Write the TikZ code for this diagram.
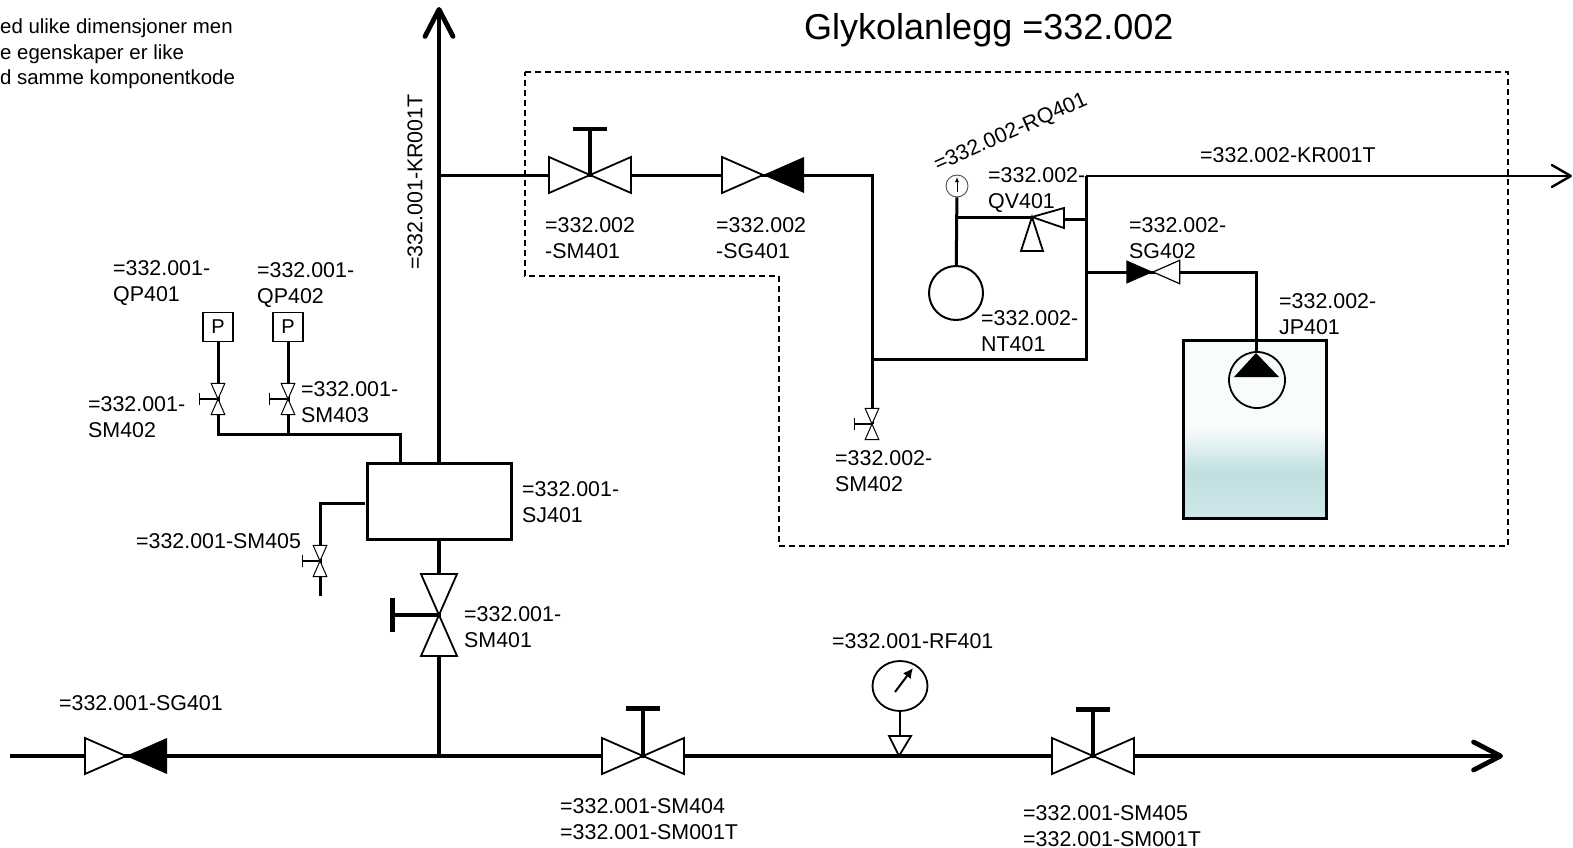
\documentclass[tikz,border=0pt]{standalone}
\usepackage{fontspec}
\setmainfont{Liberation Sans}
\usetikzlibrary{arrows.meta,shapes.geometric}

\definecolor{tanktop}{HTML}{F8FCFD}
\definecolor{tankmid}{HTML}{BFDFE1}
\definecolor{tankbot}{HTML}{D0E7E9}
\pgfdeclareverticalshading{tankfill}{100bp}{color(0bp)=(tankbot); color(25bp)=(tankbot); color(37.6bp)=(tankmid); color(50.5bp)=(tanktop); color(100bp)=(tanktop)}

\tikzset{
    mainpipe/.style={line width=4.8pt},
    pipe/.style={line width=3pt},
    thinline/.style={line width=1.4pt},
    valveline/.style={line width=1.8pt},
    lbl/.style={anchor=west, inner sep=0pt, align=left, font=\fontsize{21.4}{25.5}\selectfont},
    smallvalve/.style={rotate=90, scale=.38, valveline/.append style={line width=1pt}},
    pbox/.style={draw, line width=1.8pt, minimum width=30pt, minimum height=29pt, inner sep=0pt, font=\fontsize{20}{24}\selectfont},
    wheel/.style={line width=4pt, -{Bar[width=34pt, line width=4.5pt]}},
    smallwheel/.style={thinline, -{Bar[width=12pt]}},
    bowvalve/.pic={\draw[valveline, fill=white] (-41,-18) -- (41,18) -- (41,-18) -- (-41,18) -- cycle;},
    checkvalve/.pic={
        \draw[valveline, fill=white] (0,0) -- (-41,-18) -- (-41,18) -- cycle;
        \fill (0,0) -- (41,-18) -- (41,18) -- cycle;
    },
}

\begin{document}
\begin{tikzpicture}[x=1pt, y=-1pt]
    \useasboundingbox (0,0) rectangle (1573,848);

    \draw[line width=1.6pt, dash pattern=on 6pt off 4pt] (525,72) -- (1508,72) -- (1508,546) -- (779,546) -- (779,276) -- (525,276) -- cycle;

    \coordinate (mainin) at (10,756);
    \coordinate (mainout) at (1503,756);
    \coordinate (mainjunc) at (439,756);
    \coordinate (kr1top) at (439,7);
    \coordinate (kr1junc) at (439,175);
    \coordinate (sg401) at (126,756);
    \coordinate (sm404) at (643,756);
    \coordinate (sm404h) at (643,706);
    \coordinate (sm405b) at (1093,756);
    \coordinate (sm405bh) at (1093,707);
    \coordinate (sm401b) at (439,615);
    \coordinate (sm401bh) at (390,615);

    \node[draw, pipe, fill=white, minimum width=144pt, minimum height=76pt, inner sep=0pt] (sj401) at (439,501) {};
    \draw[mainpipe, -{Straight Barb[round, length=27pt, width=28pt]}] (mainin) -- (mainout);
    \draw[mainpipe] (mainjunc) -- (sj401.south);
    \draw[mainpipe, -{Straight Barb[round, length=27pt, width=28pt]}] (sj401.north) -- (kr1top);
    \draw[wheel] (sm401b) -- (sm401bh);
    \draw[wheel] (sm404) -- (sm404h);
    \draw[wheel] (sm405b) -- (sm405bh);

    \pic at (sg401) {checkvalve};
    \pic at (sm404) {bowvalve};
    \pic at (sm405b) {bowvalve};
    \pic[rotate=90] at (sm401b) {bowvalve};

    \node[ellipse, draw, line width=1.8pt, minimum width=55pt, minimum height=50pt, inner sep=0pt] (rf401) at (900,686) {};
    \coordinate (rf401s) at (900,736);
    \coordinate (rf401a) at (895,692);
    \coordinate (rf401b) at (913,668);
    \draw[thinline] (rf401) -- (rf401s);
    \draw[line width=1.8pt] (889,736) -- (911,736) -- (899,756) -- cycle;
    \draw[line width=2pt, -{Latex[length=10pt, width=10pt]}] (rf401a) -- (rf401b);

    \node[pbox] (qp401) at (218,327) {P};
    \node[pbox] (qp402) at (288,327) {P};
    \coordinate (sm402) at (218,399);
    \coordinate (sm403) at (288,399);
    \coordinate (sm402h) at (199,399);
    \coordinate (sm403h) at (269,399);
    \coordinate (sm402j) at (218,434);
    \coordinate (sm403j) at (288,434);
    \coordinate (sjbend) at (400,434);
    \coordinate (sjtop) at (400,463);
    \draw[pipe] (qp401) -- (sm402j) -- (sjbend) -- (sjtop);
    \draw[pipe] (qp402) -- (sm403j);
    \draw[smallwheel] (sm402) -- (sm402h);
    \draw[smallwheel] (sm403) -- (sm403h);
    \pic[smallvalve] at (sm402) {bowvalve};
    \pic[smallvalve] at (sm403) {bowvalve};

    \coordinate (sjleft) at (365,503);
    \coordinate (sm405bend) at (320,503);
    \coordinate (sm405) at (320,561);
    \coordinate (sm405h) at (302,561);
    \coordinate (sm405end) at (320,596);
    \draw[pipe] (sjleft) -- (sm405bend) -- (sm405end);
    \draw[smallwheel] (sm405) -- (sm405h);
    \pic[smallvalve] at (sm405) {bowvalve};

    \coordinate (usm401) at (590,175);
    \coordinate (usm401h) at (590,127);
    \coordinate (usg401) at (763,175);
    \coordinate (topbend) at (872,175);
    \coordinate (lowjunc) at (872,359);
    \coordinate (lowbend) at (1086,359);
    \coordinate (krjunc) at (1086,176);
    \coordinate (krout) at (1572,176);
    \coordinate (usm402) at (872,424);
    \coordinate (usm402h) at (854,424);
    \draw[pipe] (kr1junc) -- (topbend) -- (usm402);
    \draw[pipe] (lowjunc) -- (lowbend) -- (krjunc);
    \draw[pipe, line width=2.4pt, -{Straight Barb[round, length=19pt, width=22pt]}] (krjunc) -- (krout);
    \draw[wheel] (usm401) -- (usm401h);
    \draw[smallwheel] (usm402) -- (usm402h);
    \pic at (usm401) {bowvalve};
    \pic at (usg401) {checkvalve};
    \pic[smallvalve] at (usm402) {bowvalve};

    \node[circle, draw, line width=2pt, minimum size=54pt, inner sep=0pt] (nt401) at (956,293) {};
    \node[circle, draw=black!70, line width=.9pt, minimum size=22pt, inner sep=0pt] (rq401) at (957,186) {};
    \coordinate (rq401a) at (957,192);
    \coordinate (rq401b) at (957,177);
    \coordinate (qv401) at (1032,217);
    \coordinate (qvtee) at (957,217);
    \coordinate (qvright) at (1064,219);
    \coordinate (qvjunc) at (1086,219);
    \draw[pipe] (nt401) -- (rq401);
    \draw[pipe] (qvtee) -- (qv401);
    \draw[pipe] (qvright) -- (qvjunc);
    \draw[line width=.9pt, -{Latex[length=5pt, width=4pt]}] (rq401a) -- (rq401b);
    \draw[line width=1.8pt, fill=white] (qv401) -- (1064,208) -- (1064,228) -- cycle;
    \draw[line width=1.8pt, fill=white] (qv401) -- (1021,251) -- (1043,251) -- cycle;

    \node[draw, line width=3pt, shading=tankfill, minimum width=143pt, minimum height=178pt, inner sep=0pt] (tank) at (1254.5,429) {};
    \node[circle, draw, line width=1.8pt, minimum size=56pt, inner sep=0pt] (jp401) at (1257,380) {};
    \coordinate (sg402) at (1153,272);
    \coordinate (sg402j) at (1086,272);
    \coordinate (jpbend) at (1256,272);
    \coordinate (jptop) at (1256,353);
    \draw[pipe] (sg402j) -- (jpbend) -- (jptop);
    \fill (jptop) -- (1279,377) -- (1234,377) -- cycle;
    \pic[rotate=180, scale=.65, valveline/.append style={line width=1.2pt}] at (sg402) {checkvalve};

    \node[anchor=west, inner sep=0pt, font=\fontsize{36}{40}\selectfont] (title) at (804,30) {Glykolanlegg =332.002};
    \node[anchor=west, inner sep=0pt, align=left, font=\fontsize{20.4}{25.5}\selectfont] (note) at (0,54) {ed ulike dimensjoner men\\e egenskaper er like\\d samme komponentkode};

    \node[lbl, rotate=90, anchor=center] (lbkr1) at (415,182) {=332.001-KR001T};
    \node[lbl, rotate=24, anchor=center] (lbrq401) at (1011,133) {=332.002-RQ401};
    \node[lbl] (lbkr2) at (1200,155) {=332.002-KR001T};
    \node[lbl] (lbqv401) at (988,190) {=332.002-\\QV401};
    \node[lbl] (lbsg402) at (1129,238) {=332.002-\\SG402};
    \node[lbl] (lbjp401) at (1279,314) {=332.002-\\JP401};
    \node[lbl] (lbnt401) at (981,331) {=332.002-\\NT401};
    \node[lbl] (lbusm401) at (545,238) {=332.002\\-SM401};
    \node[lbl] (lbusg401) at (716,238) {=332.002\\-SG401};
    \node[lbl] (lbusm402) at (835,471) {=332.002-\\SM402};
    \node[lbl] (lbqp401) at (113,283) {=332.001-\\QP401};
    \node[lbl] (lbqp402) at (257,285) {=332.001-\\QP402};
    \node[lbl] (lbsm403) at (301,402) {=332.001-\\SM403};
    \node[lbl] (lbsm402) at (88,417) {=332.001-\\SM402};
    \node[lbl] (lbsm405) at (136,541) {=332.001-SM405};
    \node[lbl] (lbsj401) at (522,502) {=332.001-\\SJ401};
    \node[lbl] (lbsm401) at (464,627) {=332.001-\\SM401};
    \node[lbl] (lbrf401) at (832,641) {=332.001-RF401};
    \node[lbl] (lbsg401) at (59,703) {=332.001-SG401};
    \node[lbl] (lbsm404) at (560,819) {=332.001-SM404\\=332.001-SM001T};
    \node[lbl] (lbsm405b) at (1023,826) {=332.001-SM405\\=332.001-SM001T};
\end{tikzpicture}
\end{document}
